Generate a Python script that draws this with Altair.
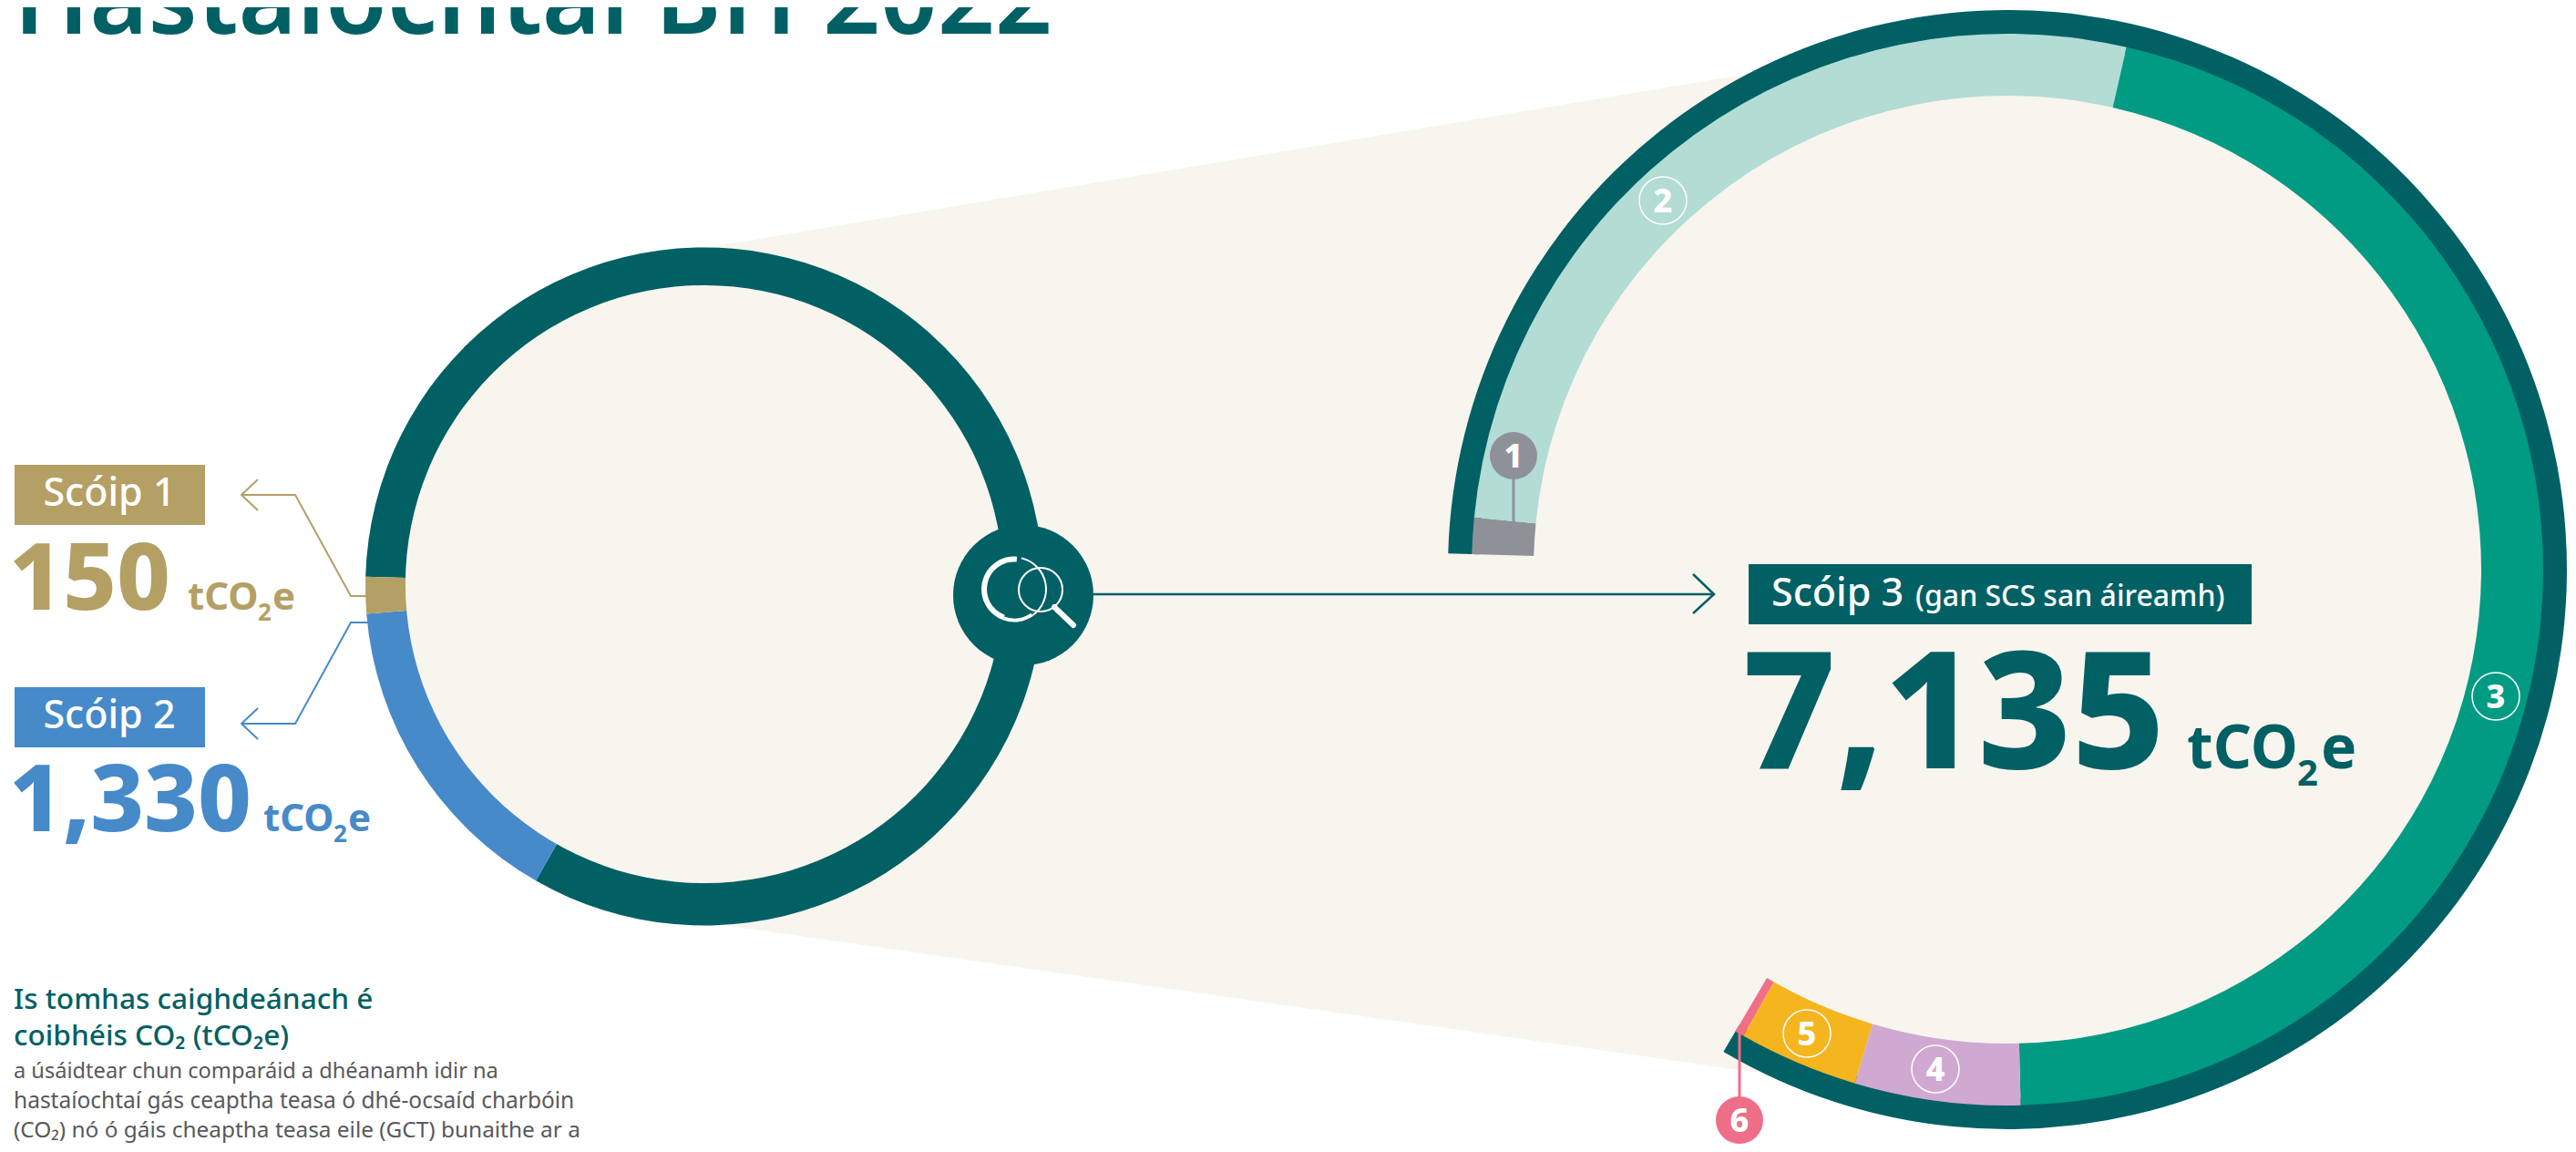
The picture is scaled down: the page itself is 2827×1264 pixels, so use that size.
import altair as alt
import pandas as pd

# ---- values ----
scope_names = ["Scóip 3", "Scóip 2", "Scóip 1"]
scope_values = [7135, 1330, 150]
part_names = ["1", "2", "3", "4", "5", "6"]
part_values = [94, 2322, 3957, 429, 310, 23]

# ---- styling ----
TEAL = "#006064"; BEIGE = "#F8F5EE"; TAN = "#B4A064"; BLUE = "#468ACA"
GREY = "#8F9199"; LIGHT = "#B2DCD4"; GREEN = "#009B82"; PURPLE = "#CFA9D2"
YELLOW = "#F5B51F"; PINK = "#EF6F88"; BODY = "#58595B"
SANS = "Noto Sans"

W, H = 2811, 1248
xs = alt.Scale(domain=[8, W + 8], range=[0, W])
ys = alt.Scale(domain=[8, H + 8], range=[0, H])
X = lambda f="x": alt.X(f"{f}:Q", scale=xs, axis=None)
Y = lambda f="y": alt.Y(f"{f}:Q", scale=ys, axis=None)
A0 = 271.65 * 3.14159265 / 180
color_scale = alt.Scale(
    domain=scope_names + part_names + ["dark"],
    range=[TEAL, BLUE, TAN, GREY, LIGHT, GREEN, PURPLE, YELLOW, PINK, TEAL],
)


def cumul(names, values):
    rows, s = [], 0
    for n, v in zip(names, values):
        rows.append({"name": n, "start": s, "end": s + v})
        s += v
    return rows


def ring(rows, cx, cy, r0, r1, span):
    df = pd.DataFrame(rows).assign(x=cx, y=cy)
    total = max(r["end"] for r in rows)
    return alt.Chart(df).mark_arc(radius=r1, radius2=r0).encode(
        x=X(), y=Y(),
        theta=alt.Theta("start:Q", stack=None,
                        scale=alt.Scale(domain=[0, total], range=[A0, A0 + span])),
        theta2=alt.Theta2("end:Q"),
        color=alt.Color("name:N", scale=color_scale, legend=None),
    )


def disc(cx, cy, r, fill=None, stroke=None, sw=0, t0=0.0, t1=6.28319, r2=0):
    kw = {}
    if fill:
        kw["fill"] = fill
    if stroke:
        kw["stroke"] = stroke
        kw["strokeWidth"] = sw
        if not fill:
            kw["fillOpacity"] = 0
    return alt.Chart(pd.DataFrame({"x": [cx], "y": [cy]})).mark_arc(
        radius=r, radius2=r2, theta=t0, theta2=t1, **kw
    ).encode(x=X(), y=Y())


def poly(points, color, sw, cap="butt", join="miter"):
    df = pd.DataFrame(points, columns=["x", "y"]).assign(i=range(len(points)))
    return alt.Chart(df).mark_line(color=color, strokeWidth=sw, strokeCap=cap, strokeJoin=join).encode(
        x=X(), y=Y(), order="i:Q"
    )


def rect(x0, y0, x1, y1, color):
    df = pd.DataFrame({"x": [x0], "x2": [x1], "y": [y0], "y2": [y1]})
    return alt.Chart(df).mark_rect(color=color).encode(x=X(), x2="x2:Q", y=Y(), y2="y2:Q")


def txt(s, x, y, size, color, weight="normal", font=SANS, align="left", baseline="alphabetic"):
    df = pd.DataFrame({"x": [x], "y": [y], "t": [s]})
    return alt.Chart(df).mark_text(
        fontSize=size, color=color, fontWeight=weight, font=font, align=align, baseline=baseline
    ).encode(x=X(), y=Y(), text="t:N")


deg = 3.14159265 / 180
layers = []

# wedge joining the two rings
wedge = pd.DataFrame({"x": [780, 1930], "y": [271, 79], "y2": [1013, 1177]})
layers.append(alt.Chart(wedge).mark_area(color=BEIGE, interpolate="linear").encode(x=X(), y=Y(), y2="y2:Q"))
layers.append(disc(2203, 625, 612, fill=BEIGE))

# left ring
layers.append(ring(cumul(scope_names, scope_values), 773, 643.5, 300, 372, 6.28319))
layers.append(disc(773, 641, 328, fill=BEIGE))

# right ring
span = (570.5 - 271.65) * deg
layers.append(ring([{"name": "dark", "start": 0, "end": sum(part_values)}], 2203, 625, 580, 614, span))
layers.append(ring(cumul(part_names, part_values), 2203, 625, 520, 588, span))

# magnifier
layers.append(disc(1123, 653, 77, fill=TEAL))
ic = (1113, 646.5)
layers.append(disc(*ic, 36, fill="white", r2=30, t0=200 * deg, t1=365 * deg))
layers.append(disc(*ic, 36, fill="white", r2=32, t0=145 * deg, t1=200 * deg))
layers.append(disc(*ic, 36, fill="white", r2=34, t0=13 * deg, t1=145 * deg))
layers.append(disc(1142, 647, 24, stroke="white", sw=2))
layers.append(poly([(1157, 666), (1178, 686)], "white", 6, cap="round"))

# main arrow
layers.append(poly([(1200, 652), (1881, 652)], TEAL, 2.5))
layers.append(poly([(1858, 630), (1881, 652), (1858, 673)], TEAL, 2.5))

# scope 1 and 2 call-outs
layers.append(poly([(402, 654), (385, 654), (324, 543), (265, 543)], TAN, 2))
layers.append(poly([(283, 526), (265, 543), (283, 560)], TAN, 2))
layers.append(poly([(404, 683), (385, 683), (324, 794), (265, 794)], BLUE, 2))
layers.append(poly([(283, 777), (265, 794), (283, 811)], BLUE, 2))
layers.append(rect(16, 510, 225, 576, TAN))
layers.append(rect(16, 754, 225, 820, BLUE))
layers.append(rect(1919, 619, 2471, 685, TEAL))

layers.append(txt("Scóip 1", 120, 555, 43, "white", weight=500, align="center"))
layers.append(txt("Scóip 2", 120, 799, 43, "white", weight=500, align="center"))
layers.append(txt("Scóip 3", 1944, 665, 43, "white", weight=500))
layers.append(txt("(gan SCS san áireamh)", 2102, 665, 32, "white", weight=500))

layers.append(txt("150", 10, 669, 102, TAN, weight=800))
layers.append(txt("tCO", 206, 669, 42, TAN, weight=700))
layers.append(txt("2", 283, 681, 26, TAN, weight=700))
layers.append(txt("e", 299, 669, 42, TAN, weight=700))

layers.append(txt("1,330", 10, 912, 102, BLUE, weight=800))
layers.append(txt("tCO", 289, 912, 42, BLUE, weight=700))
layers.append(txt("2", 366, 924, 26, BLUE, weight=700))
layers.append(txt("e", 382, 912, 42, BLUE, weight=700))

layers.append(txt("7,135", 1912, 843, 178, TEAL, weight=800))
layers.append(txt("tCO", 2400, 843, 66, TEAL, weight=700))
layers.append(txt("2", 2521, 862, 40, TEAL, weight=700))
layers.append(txt("e", 2547, 843, 66, TEAL, weight=700))

# numbered markers
layers.append(poly([(1661, 500), (1661, 572)], GREY, 3))
layers.append(disc(1661, 500, 26, fill=GREY))
layers.append(poly([(1909, 1132), (1909, 1229)], PINK, 3))
layers.append(disc(1909, 1229, 26, fill=PINK))
for n, cx, cy in [("2", 1825, 220), ("3", 2739, 764), ("4", 2124, 1173), ("5", 1983, 1134)]:
    layers.append(disc(cx, cy, 26, stroke="white", sw=1.5, fill=None))
for n, cx, cy in [("1", 1661, 500), ("2", 1825, 220), ("3", 2739, 764), ("4", 2124, 1173), ("5", 1983, 1134), ("6", 1909, 1229)]:
    layers.append(txt(n, cx, cy + 13, 36, "white", weight=800, align="center"))

# title and notes
layers.append(txt("Hastaíochtaí BH 2022", 15, 37, 110, TEAL, weight=600))
layers.append(txt("Is tomhas caighdeánach é", 15, 1107, 31.6, TEAL, weight=500))
layers.append(txt("coibhéis CO₂ (tCO₂e)", 15, 1147, 31.6, TEAL, weight=500))
layers.append(txt("a úsáidtear chun comparáid a dhéanamh idir na", 15, 1183, 23.6, BODY))
layers.append(txt("hastaíochtaí gás ceaptha teasa ó dhé-ocsaíd charbóin", 15, 1216, 24.5, BODY))
layers.append(txt("(CO₂) nó ó gáis cheaptha teasa eile (GCT) bunaithe ar a", 15, 1248, 24.4, BODY))

chart = alt.layer(*layers).resolve_scale(theta="independent").properties(
    width=W, height=H, padding=0, autosize=alt.AutoSizeParams(type="none"), background="white"
).configure_view(stroke=None)

chart.save("out.html", embed_options={"renderer": "svg", "actions": False})
